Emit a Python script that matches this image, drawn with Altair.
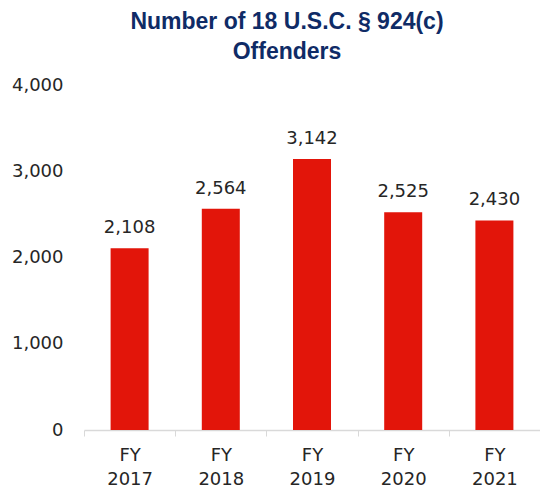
import altair as alt
import pandas as pd

years = ["FY 2017", "FY 2018", "FY 2019", "FY 2020", "FY 2021"]
offenders = [2108, 2564, 3142, 2525, 2430]
y_ticks = [0, 1000, 2000, 3000, 4000]

df = pd.DataFrame({"year": years, "count": offenders})

FONT = "DejaVu Sans"

x = alt.X(
    "year:N",
    sort=years,
    title=None,
    scale=alt.Scale(paddingInner=0, paddingOuter=0),
    axis=alt.Axis(
        labelAngle=0,
        labelExpr="split(datum.label, ' ')",
        labelFont=FONT,
        labelFontSize=18,
        labelColor="#262626",
        labelLineHeight=24,
        labelPadding=10,
        tickBand="extent",
        tickColor="#D9D9D9",
        tickSize=6,
        domainColor="#D9D9D9",
        domainWidth=1.5,
        grid=False,
    ),
)

y = alt.Y(
    "count:Q",
    title=None,
    scale=alt.Scale(domain=[0, 4000]),
    axis=alt.Axis(
        values=y_ticks,
        format=",d",
        labelFont=FONT,
        labelFontSize=18,
        labelColor="#262626",
        labelPadding=21,
        ticks=False,
        domain=False,
        grid=False,
    ),
)

bars = alt.Chart(df).mark_bar(size=38, color="#E2150A").encode(x=x, y=y)

labels = alt.Chart(df).mark_text(
    font=FONT, fontSize=18, color="#262626", baseline="alphabetic", dy=-15
).encode(x=alt.X("year:N", sort=years), y="count:Q", text=alt.Text("count:Q", format=",d"))

chart = (
    alt.layer(bars, labels)
    .properties(
        width=456,
        height=345,
        autosize=alt.AutoSizeParams(type="none"),
        padding={"left": 76, "top": 77, "right": 0, "bottom": 62},
        title=alt.TitleParams(
            text=["Number of 18 U.S.C. § 924(c)", "Offenders"],
            font="Liberation Sans",
            fontSize=23,
            fontWeight="bold",
            color="#0F2B66",
            anchor="middle",
            dx=-25,
            offset=12,
            lineHeight=30,
        ),
    )
    .configure_view(stroke=None)
)

chart.save("out.html", embed_options={"renderer": "svg", "actions": False})
